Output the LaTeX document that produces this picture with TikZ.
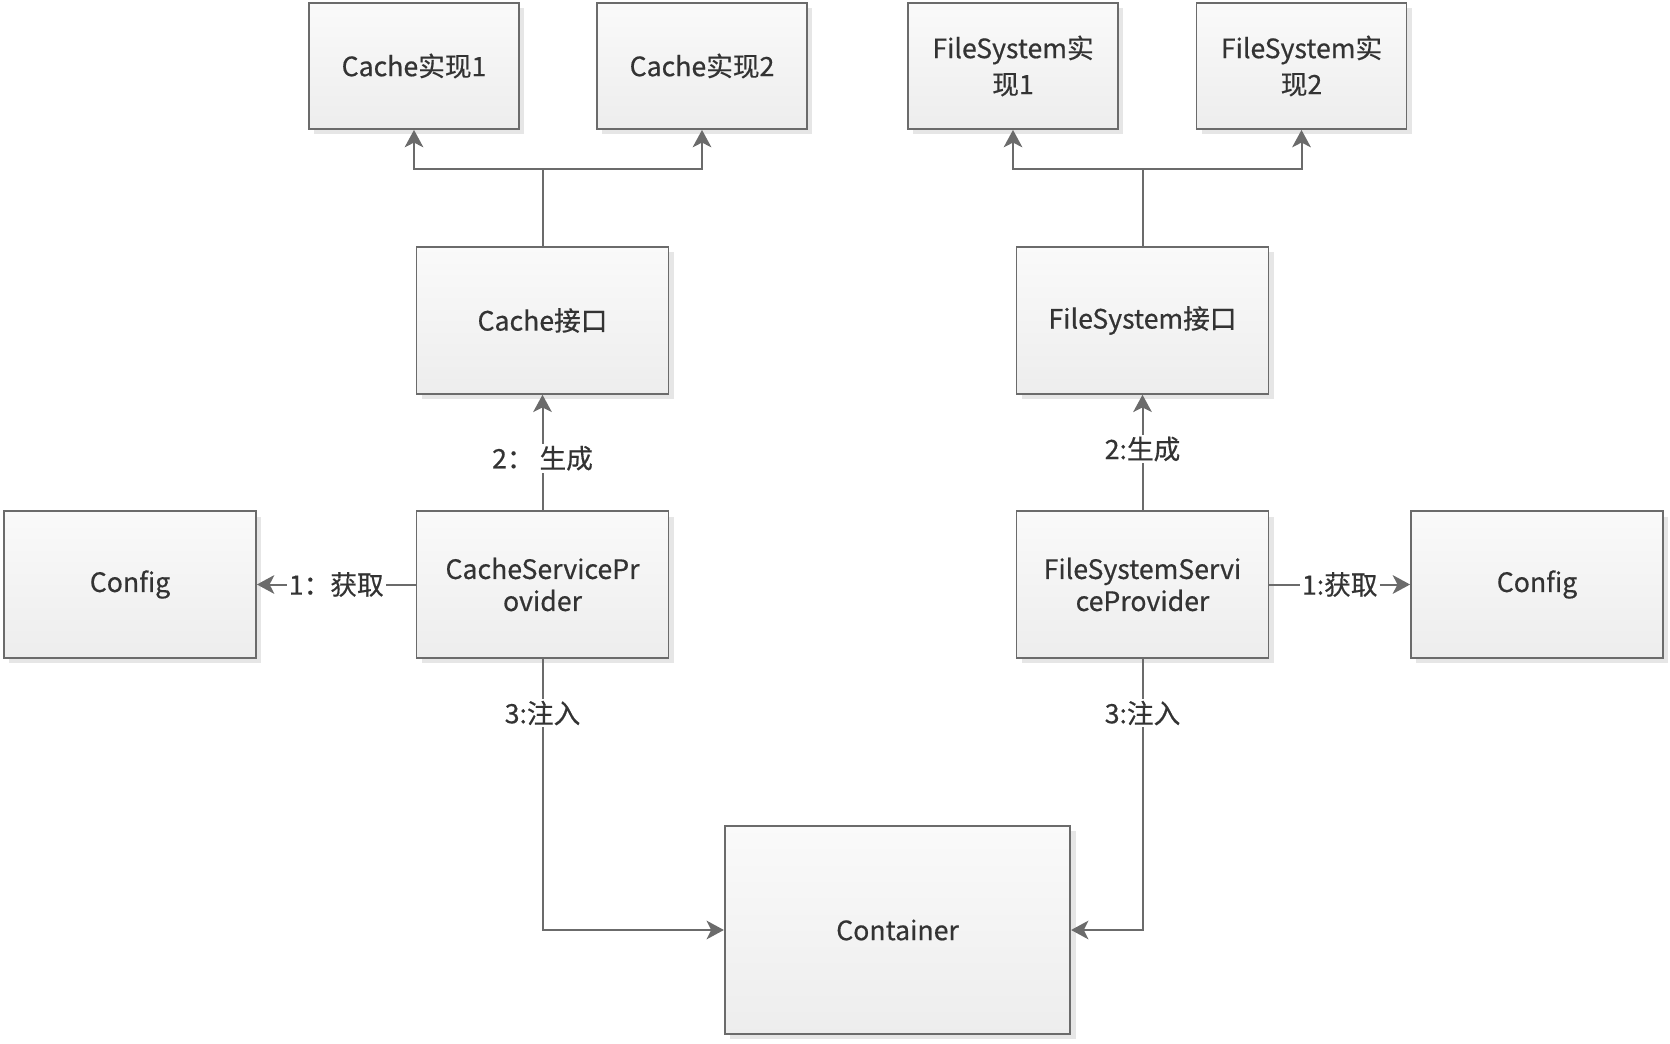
\documentclass[tikz,border=0pt]{standalone}
\usepackage{fontspec}
\setmainfont{Noto Sans CJK SC}[FakeBold=0.5]
\usetikzlibrary{arrows.meta,shadows}

\definecolor{lineGray}{HTML}{6B6B6B}
\definecolor{textGray}{HTML}{333333}
\definecolor{shadowGray}{HTML}{E6E6E6}

\tikzset{
  box/.style={draw=lineGray, line width=1.4pt, top color=white!98!black, bottom color=white!93!black,
    text=textGray, align=center, inner sep=0pt, font=\fontsize{20}{24}\selectfont,
    drop shadow={shadow xshift=4pt, shadow yshift=-4pt, fill=shadowGray, opacity=1}},
  smallbox/.style={box, minimum width=157.5pt, minimum height=94.5pt},
  midbox/.style={box, minimum width=189pt, minimum height=110pt},
  bigbox/.style={box, minimum width=259pt, minimum height=156pt},
  link/.style={draw=lineGray, line width=1.5pt},
  tip/.style={-{Stealth[length=13pt,width=14pt,inset=3.5pt]}},
  lbl/.style={fill=white, text=textGray, inner sep=1.5pt, font=\fontsize{20}{24}\selectfont}
}

\begin{document}
\begin{tikzpicture}[x=0.75pt, y=-0.75pt]
  \useasboundingbox (0,0) rectangle (1670,1044);

  % implementations
  \node[smallbox] (cimpl1) at (414,66) {Cache实现1};
  \node[smallbox] (cimpl2) at (702,66) {Cache实现2};
  \node[smallbox] (fimpl1) at (1013,66) {FileSystem实\\[3pt]现1};
  \node[smallbox] (fimpl2) at (1301.5,66) {FileSystem实\\[3pt]现2};

  % interfaces
  \node[midbox] (cacheif) at (542.5,320.5) {Cache接口};
  \node[midbox] (fsif) at (1142.5,320.5) {FileSystem接口};

  % providers and config
  \node[midbox] (cfgl) at (130,584.5) {Config};
  \node[midbox] (csp) at (542.5,584.5) {CacheServicePr\\ovider};
  \node[midbox] (fssp) at (1142.5,584.5) {FileSystemServi\\ceProvider};
  \node[midbox] (cfgr) at (1537,584.5) {Config};

  \node[bigbox] (container) at (897.5,930) {Container};

  % forks to implementations
  \draw[link] (cacheif.north) -- ++(0,-77) coordinate (cfork);
  \draw[link, tip] (cfork) -| (cimpl1.south);
  \draw[link, tip] (cfork) -| (cimpl2.south);
  \draw[link] (fsif.north) -- ++(0,-77) coordinate (ffork);
  \draw[link, tip] (ffork) -| (fimpl1.south);
  \draw[link, tip] (ffork) -| (fimpl2.south);

  % numbered steps
  \draw[link, tip] (csp.west) -- node[lbl] {1：获取} (cfgl.east);
  \draw[link, tip] (fssp.east) -- node[lbl] {1:获取} (cfgr.west);
  \draw[link, tip] (csp.north) -- node[lbl, pos=0.45] {2：~生成} (cacheif.south);
  \draw[link, tip] (fssp.north) -- node[lbl, pos=0.53] {2:生成} (fsif.south);
  \draw[link, tip] (csp.south) |- node[lbl, pos=0.1] {3:注入} (container.west);
  \draw[link, tip] (fssp.south) |- node[lbl, pos=0.1] {3:注入} (container.east);
\end{tikzpicture}
\end{document}
